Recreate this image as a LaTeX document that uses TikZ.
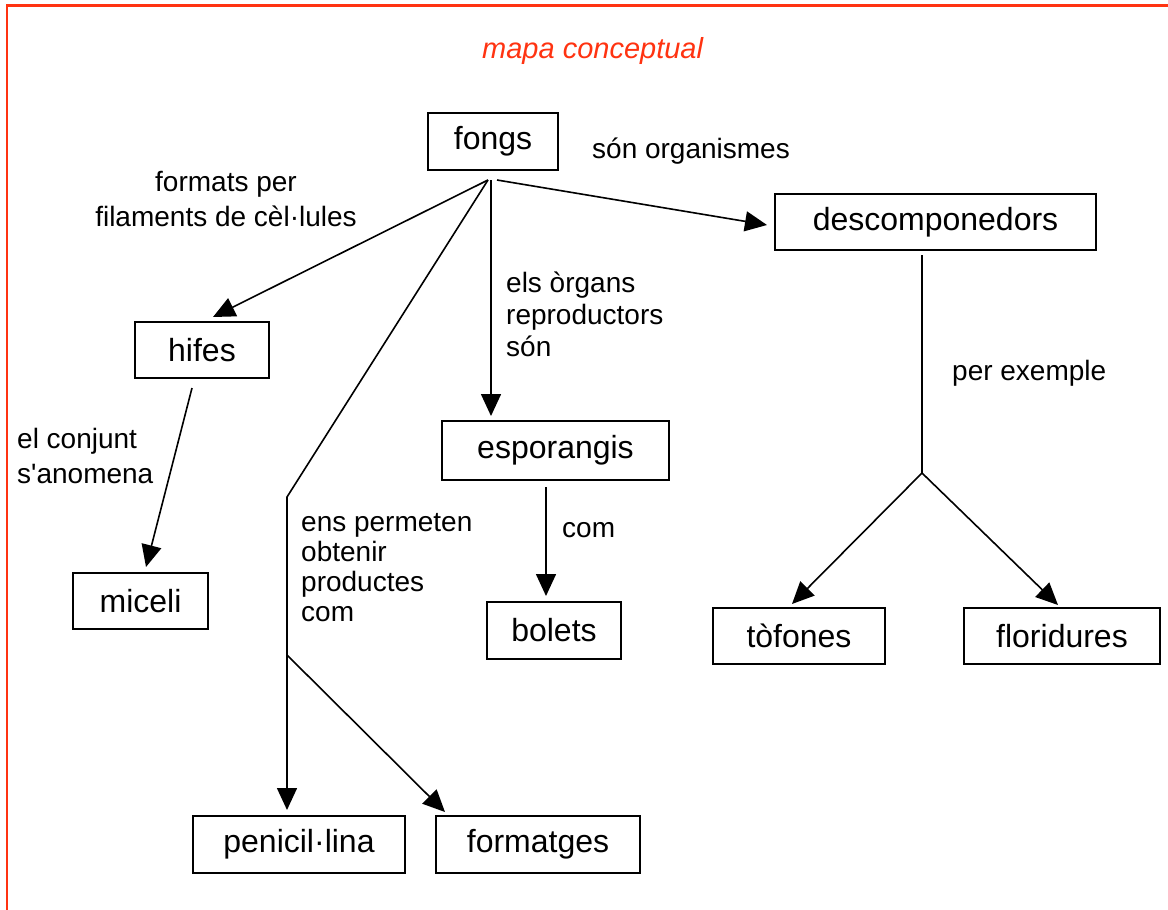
\documentclass[tikz,border=0pt]{standalone}
\usepackage{fontspec}
\setmainfont{Liberation Sans}
\usetikzlibrary{arrows.meta}
\definecolor{framered}{HTML}{FF3311}
\begin{document}
\begin{tikzpicture}[x=1pt,y=-1pt,
  box/.style={draw, line width=1.8pt, inner sep=0pt, font=\fontsize{32}{38}\selectfont},
  lbl/.style={inner sep=0pt, align=left, font=\fontsize{28}{34}\selectfont},
  conn/.style={line width=1.6pt},
  arr/.style={conn, -{Triangle[length=22pt,width=20pt]}}]
\useasboundingbox (0,0) rectangle (1168,910);
\fill[white] (0,0) rectangle (1168,910);
% frame
\draw[framered, line width=2.5pt] (1168,5.3) -- (7.2,5.3) -- (7.2,910);
% title
\node[anchor=base west, inner sep=0pt, text=framered, font=\fontsize{29}{34}\selectfont\itshape] (title) at (482,58) {mapa conceptual};
% boxes
\node[box, minimum width=130pt, minimum height=57pt] (fongs) at (493,141.5) {fongs};
\node[box, minimum width=321pt, minimum height=56pt] (desc) at (935.5,222) {descomponedors};
\node[box, minimum width=134pt, minimum height=56pt] (hifes) at (202,350) {hifes};
\node[box, minimum width=227pt, minimum height=59pt] (espor) at (555.5,450.5) {esporangis};
\node[box, minimum width=135pt, minimum height=56pt] (miceli) at (140.5,601) {miceli};
\node[box, minimum width=134pt, minimum height=57pt] (bolets) at (554,630.5) {bolets};
\node[box, minimum width=172pt, minimum height=56pt] (tofones) at (799,636) {tòfones};
\node[box, minimum width=196pt, minimum height=56pt] (florid) at (1062,636) {floridures};
\node[box, minimum width=212pt, minimum height=57pt] (penic) at (299,844.5) {penicil·lina};
\node[box, minimum width=204pt, minimum height=57pt] (format) at (538,844.5) {formatges};
% labels
\node[lbl, align=center, anchor=north, font=\fontsize{28}{35}\selectfont] (l1) at (226,171) {formats per\\filaments de cèl·lules};
\node[lbl, anchor=base west] (l2) at (592,158) {són organismes};
\node[lbl, anchor=north west, font=\fontsize{28}{32}\selectfont] (l3) at (506,272) {els òrgans\\reproductors\\són};
\node[lbl, anchor=north west, font=\fontsize{28}{35}\selectfont] (l4) at (17,428) {el conjunt\\s\textquotesingle anomena};
\node[lbl, anchor=north west, font=\fontsize{28}{30}\selectfont] (l5) at (301,513) {ens permeten\\obtenir\\productes\\com};
\node[lbl, anchor=base west] (l6) at (562,537) {com};
\node[lbl, anchor=base west] (l7) at (952,380) {per exemple};
% connector points
\coordinate (fo) at (488,180);
\coordinate (fov) at (491,180);
\coordinate (for) at (497,180);
\coordinate (hifestip) at (213,317);
\coordinate (desctip) at (767,225);
\coordinate (esportip) at (491,416);
\coordinate (bend) at (287,497);
\coordinate (split) at (287,655);
\coordinate (penictip) at (287,810);
\coordinate (formtip) at (445,812);
\coordinate (hifesout) at (192,388);
\coordinate (micelitip) at (146,567);
\coordinate (esporout) at (546,487);
\coordinate (bolettip) at (546,596);
\coordinate (descout) at (922,255);
\coordinate (descsplit) at (922,473);
\coordinate (toftip) at (792,604);
\coordinate (flortip) at (1058,605);
% connectors
\draw[arr] (fo) -- (hifestip);
\draw[arr] (for) -- (desctip);
\draw[arr] (fov) -- (esportip);
\draw[conn] (fo) -- (bend) -- (split);
\draw[arr] (split) -- (penictip);
\draw[arr] (split) -- (formtip);
\draw[arr] (hifesout) -- (micelitip);
\draw[arr] (esporout) -- (bolettip);
\draw[conn] (descout) -- (descsplit);
\draw[arr] (descsplit) -- (toftip);
\draw[arr] (descsplit) -- (flortip);
\end{tikzpicture}
\end{document}
